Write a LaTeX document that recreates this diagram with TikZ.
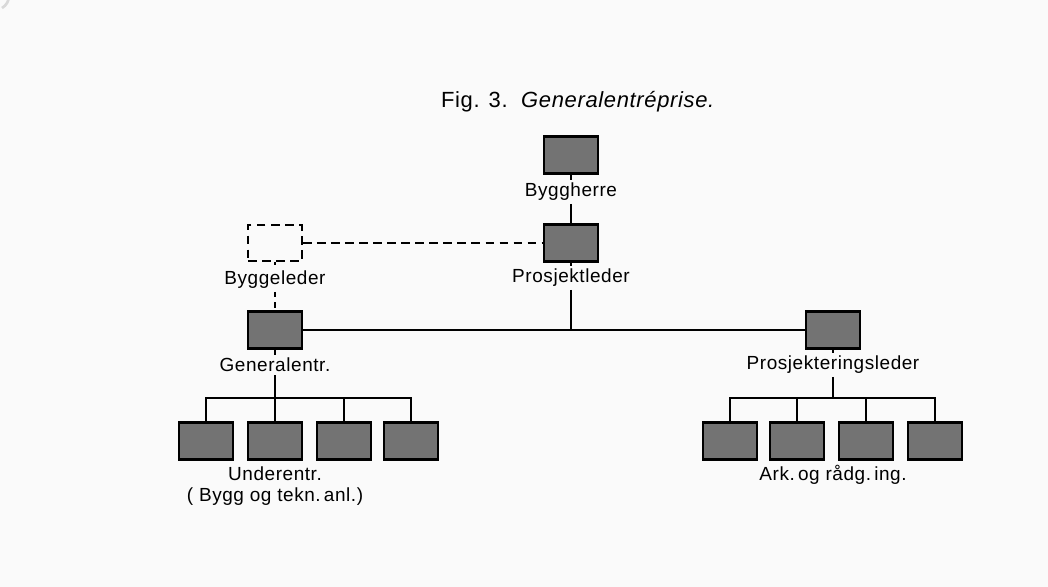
\documentclass[tikz,border=0pt]{standalone}
\usepackage{fontspec}
\setmainfont{Liberation Sans}
\newfontfamily\orgfont[LetterSpace=3]{Liberation Sans}
\usepackage{tikz}
\usetikzlibrary{positioning}

\begin{document}
\begin{tikzpicture}[
            x=0.02cm, y=-0.02cm, % pixel-like units, y going down
            unit/.style={rectangle, draw, line width=1.4pt, fill=black!55, minimum width=1.08cm, minimum height=0.74cm, inner sep=0pt}, % filled unit box
            emptyunit/.style={rectangle, draw, dashed, dash pattern=on 5pt off 3pt, line width=0.9pt, minimum width=1.08cm, minimum height=0.72cm, inner sep=0pt}, % dashed box
            role/.style={anchor=base, font=\orgfont\fontsize{10.8}{13}\selectfont, inner sep=1.5pt}, % text under the boxes
            link/.style={line width=0.8pt}
            ]

                % page frame
                \useasboundingbox[fill=black!2] (0,0) rectangle (1048,587);
                \draw[black!15, line width=1.5pt] (2,8) arc (60:-40:14);

                % title
                \node[anchor=base, font=\orgfont\fontsize{12.5}{15}\selectfont] (title) at (578,108) {Fig. 3.\ \ \textit{Generalentréprise.}};

                % top of the chain
                \node[unit] (byggherre) at (571,155) {};
                \node[role] (byggherrelbl) at (571,197) {Byggherre};
                \node[unit] (prosjektleder) at (571,243) {};
                \node[role] (prosjektlederlbl) at (571,283) {Prosjektleder};

                % dashed site manager
                \node[emptyunit] (byggeleder) at (275,243) {};
                \node[role] (byggelederlbl) at (275,285) {Byggeleder};

                % second level
                \node[unit] (generalentr) at (275,330) {};
                \node[role] (generalentrlbl) at (275,372) {Generalentr.};
                \node[unit] (prosjektering) at (833,330) {};
                \node[role] (prosjekteringlbl) at (833,370) {Prosjekteringsleder};

                % sub contractors
                \node[unit] (under1) at (206,441) {};
                \node[unit] (under2) at (275,441) {};
                \node[unit] (under3) at (344,441) {};
                \node[unit] (under4) at (411,441) {};
                \node[role] (underlbl) at (275,480) {Underentr.};
                \node[role] (underlbl2) at (275,501) {( Bygg og tekn.\,anl.)};

                % consultants
                \node[unit] (ark1) at (730,441) {};
                \node[unit] (ark2) at (797,441) {};
                \node[unit] (ark3) at (866,441) {};
                \node[unit] (ark4) at (935,441) {};
                \node[role] (arklbl) at (833,480) {Ark.\,og rådg.\,ing.};

                \coordinate (underbus) at (275,398);
                \coordinate (arkbus) at (833,398);

                % connectors
                \draw[link] (byggherre) -- (byggherrelbl);
                \draw[link] (byggherrelbl) -- (prosjektleder);
                \draw[link] (prosjektleder) -- (prosjektlederlbl);
                \draw[link] (prosjektlederlbl) -- (prosjektlederlbl |- generalentr);
                \draw[link] (generalentr) -- (prosjektering);
                \draw[link, dashed, dash pattern=on 5pt off 3pt] (byggeleder) -- (prosjektleder);
                \draw[link, dashed, dash pattern=on 2pt off 2pt] (byggeleder) -- (byggelederlbl);
                \draw[link, dashed, dash pattern=on 3pt off 3pt] (byggelederlbl) -- (generalentr);
                \draw[link] (generalentr) -- (generalentrlbl);
                \draw[link] (generalentrlbl) -- (under2);
                \draw[link] (prosjektering) -- (prosjekteringlbl);
                \draw[link] (prosjekteringlbl) -- (arkbus);

                \draw[link] (under1) |- (underbus) -| (under4);
                \draw[link] (under3) -- (under3 |- underbus);
                \draw[link] (ark1) |- (arkbus) -| (ark4);
                \draw[link] (ark2) -- (ark2 |- arkbus);
                \draw[link] (ark3) -- (ark3 |- arkbus);

            \end{tikzpicture}
\end{document}
